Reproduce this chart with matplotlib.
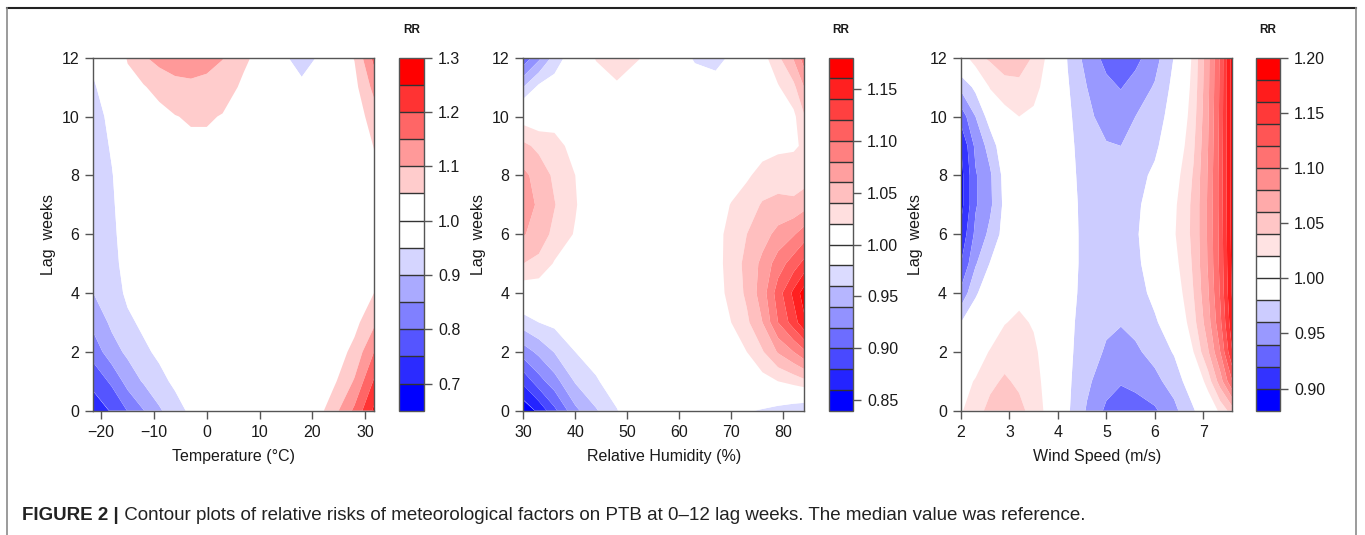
import numpy as np
import matplotlib
matplotlib.use("Agg")
import matplotlib.pyplot as plt
from matplotlib.lines import Line2D

plt.rcParams['font.family'] = ['Liberation Sans', 'DejaVu Sans']

# ---------------- data ----------------
# Panel 1: Temperature (rows = lag, columns = temperature)
temp_lag = [0, 1, 2, 3, 4, 5, 6, 8, 10, 11, 12]
temp_x = [-21.5, -18, -15, -12, -9, -6, -3, 0, 3, 7, 12, 15, 18, 21, 24, 28, 31.7]
temp_cols = [
    [0.720, 0.765, 0.820, 0.865, 0.900, 0.910, 0.915, 0.920, 0.935, 0.945, 0.960],
    [0.755, 0.810, 0.880, 0.910, 0.925, 0.935, 0.940, 0.948, 0.960, 0.975, 0.995],
    [0.802, 0.870, 0.910, 0.940, 0.960, 0.968, 0.972, 0.975, 0.990, 1.030, 1.055],
    [0.848, 0.905, 0.940, 0.960, 0.975, 0.980, 0.985, 0.990, 1.010, 1.045, 1.095],
    [0.893, 0.935, 0.960, 0.975, 0.990, 0.990, 0.990, 0.995, 1.030, 1.070, 1.115],
    [0.930, 0.960, 0.975, 0.990, 1.000, 1.000, 1.000, 1.010, 1.048, 1.085, 1.125],
    [0.960, 0.975, 0.985, 0.995, 1.000, 1.000, 1.005, 1.022, 1.056, 1.090, 1.125],
    [0.980, 0.985, 0.990, 1.000, 1.000, 1.000, 1.005, 1.022, 1.056, 1.085, 1.118],
    [0.990, 0.995, 1.000, 1.000, 1.000, 1.000, 1.000, 1.015, 1.047, 1.075, 1.102],
    [1.000, 1.000, 1.000, 1.000, 1.000, 1.000, 1.000, 1.008, 1.025, 1.040, 1.060],
    [1.000, 1.000, 1.000, 1.000, 1.000, 1.000, 1.000, 1.000, 1.005, 1.010, 1.020],
    [1.000, 1.000, 1.000, 1.000, 1.000, 1.000, 1.000, 1.000, 0.995, 0.985, 0.953],
    [1.000, 1.000, 1.000, 1.000, 1.000, 1.000, 1.000, 1.000, 0.985, 0.958, 0.935],
    [1.030, 1.010, 1.000, 1.000, 1.000, 1.000, 1.000, 1.000, 0.995, 0.985, 0.952],
    [1.080, 1.040, 1.020, 1.010, 1.000, 1.000, 1.000, 1.000, 1.000, 1.005, 1.020],
    [1.160, 1.105, 1.065, 1.035, 1.018, 1.008, 1.000, 1.005, 1.020, 1.035, 1.052],
    [1.260, 1.205, 1.150, 1.090, 1.050, 1.035, 1.025, 1.030, 1.075, 1.115, 1.165],
]
temp_levels = [0.65, 0.70, 0.75, 0.80, 0.85, 0.90, 0.95, 1.00, 1.05, 1.10, 1.15, 1.20, 1.25, 1.30]
temp_ticks = [-20, -10, 0, 10, 20, 30]
temp_cbticks = [0.7, 0.8, 0.9, 1.0, 1.1, 1.2, 1.3]

# Panel 2: Relative humidity
rh_lag = [0, 1, 2, 3, 4, 5, 6, 7, 8, 9, 10, 11, 12]
rh_x = [30, 33, 36, 40, 44, 48, 53, 58, 63, 67, 70, 73, 76, 79, 82, 84]
rh_cols = [
    [0.845, 0.885, 0.930, 0.970, 1.005, 1.040, 1.062, 1.072, 1.065, 1.045, 1.010, 0.960, 0.905],
    [0.865, 0.912, 0.945, 0.980, 1.005, 1.035, 1.050, 1.056, 1.052, 1.035, 1.005, 0.985, 0.935],
    [0.895, 0.932, 0.961, 0.985, 1.000, 1.018, 1.035, 1.041, 1.036, 1.028, 1.010, 0.990, 0.968],
    [0.935, 0.962, 0.980, 0.992, 1.000, 1.008, 1.018, 1.022, 1.020, 1.012, 1.000, 0.998, 0.995],
    [0.958, 0.978, 0.988, 0.995, 1.000, 1.000, 1.000, 1.000, 1.000, 1.000, 1.000, 1.005, 1.022],
    [0.979, 0.990, 0.995, 1.000, 1.000, 1.000, 1.000, 1.000, 1.000, 1.000, 1.000, 1.016, 1.034],
    [1.000, 1.000, 1.000, 1.000, 1.000, 1.000, 1.000, 1.000, 1.000, 1.000, 1.000, 1.005, 1.019],
    [1.000, 1.000, 1.000, 1.000, 1.000, 1.000, 1.000, 1.000, 1.000, 1.000, 1.000, 1.000, 1.000],
    [1.000, 1.000, 1.000, 1.000, 1.000, 1.000, 1.000, 1.000, 1.000, 1.000, 1.000, 0.993, 0.977],
    [1.000, 1.000, 1.004, 1.008, 1.012, 1.013, 1.013, 1.010, 1.005, 1.000, 1.000, 0.990, 0.972],
    [0.995, 1.002, 1.012, 1.020, 1.026, 1.028, 1.027, 1.021, 1.010, 1.003, 1.000, 1.000, 0.984],
    [0.982, 1.008, 1.020, 1.036, 1.044, 1.046, 1.040, 1.030, 1.017, 1.006, 1.000, 1.000, 1.000],
    [0.978, 1.012, 1.038, 1.060, 1.070, 1.065, 1.052, 1.042, 1.027, 1.012, 1.004, 1.004, 1.012],
    [0.972, 1.020, 1.062, 1.100, 1.110, 1.090, 1.066, 1.046, 1.030, 1.016, 1.008, 1.018, 1.036],
    [0.965, 1.028, 1.080, 1.130, 1.145, 1.110, 1.078, 1.045, 1.028, 1.018, 1.015, 1.035, 1.062],
    [0.960, 1.035, 1.095, 1.155, 1.170, 1.126, 1.090, 1.052, 1.030, 1.022, 1.038, 1.060, 1.090],
]
rh_levels = [0.84, 0.86, 0.88, 0.90, 0.92, 0.94, 0.96, 0.98, 1.00, 1.02, 1.04,
             1.06, 1.08, 1.10, 1.12, 1.14, 1.16, 1.18]
rh_ticks = [30, 40, 50, 60, 70, 80]
rh_cbticks = [0.85, 0.90, 0.95, 1.00, 1.05, 1.10, 1.15]

# Panel 3: Wind speed
ws_lag = [0, 1, 2, 3, 4, 5, 6, 7, 8, 9, 10, 11, 12]
ws_x = [2.0, 2.3, 2.6, 2.9, 3.2, 3.5, 3.8, 4.2, 4.6, 5.0, 5.3, 5.6, 6.0, 6.4, 6.8, 7.1, 7.35, 7.6]
ws_cols = [
    [1.018, 1.010, 0.995, 0.980, 0.945, 0.920, 0.905, 0.893, 0.893, 0.900, 0.928, 0.965, 1.005],
    [1.032, 1.022, 1.005, 0.990, 0.978, 0.958, 0.945, 0.938, 0.938, 0.945, 0.960, 0.985, 1.035],
    [1.046, 1.035, 1.022, 1.000, 0.990, 0.981, 0.965, 0.956, 0.957, 0.968, 0.990, 1.022, 1.043],
    [1.052, 1.043, 1.031, 1.019, 1.005, 0.995, 0.988, 0.985, 0.987, 0.996, 1.012, 1.032, 1.052],
    [1.046, 1.036, 1.030, 1.024, 1.014, 1.006, 1.002, 1.002, 1.005, 1.012, 1.020, 1.035, 1.050],
    [1.032, 1.028, 1.024, 1.018, 1.008, 1.000, 0.998, 0.998, 1.000, 1.008, 1.016, 1.027, 1.038],
    [1.014, 1.012, 1.010, 1.006, 1.000, 0.996, 0.994, 0.994, 0.995, 1.000, 1.006, 1.011, 1.015],
    [0.983, 0.984, 0.985, 0.986, 0.988, 0.989, 0.989, 0.989, 0.988, 0.987, 0.985, 0.982, 0.979],
    [0.958, 0.964, 0.968, 0.970, 0.972, 0.973, 0.973, 0.972, 0.970, 0.967, 0.963, 0.960, 0.952],
    [0.936, 0.948, 0.958, 0.963, 0.966, 0.968, 0.968, 0.967, 0.964, 0.961, 0.955, 0.945, 0.934],
    [0.928, 0.942, 0.954, 0.961, 0.965, 0.967, 0.968, 0.966, 0.963, 0.960, 0.951, 0.939, 0.928],
    [0.932, 0.945, 0.957, 0.965, 0.971, 0.975, 0.977, 0.975, 0.971, 0.965, 0.960, 0.948, 0.934],
    [0.937, 0.955, 0.966, 0.977, 0.986, 0.992, 0.995, 0.992, 0.985, 0.975, 0.968, 0.962, 0.952],
    [0.955, 0.968, 0.982, 0.995, 1.005, 1.013, 1.018, 1.016, 1.010, 1.000, 0.992, 0.986, 0.981],
    [0.978, 0.995, 1.020, 1.033, 1.040, 1.043, 1.045, 1.045, 1.042, 1.037, 1.032, 1.028, 1.025],
    [1.000, 1.030, 1.058, 1.072, 1.078, 1.082, 1.083, 1.083, 1.082, 1.080, 1.078, 1.076, 1.075],
    [1.025, 1.070, 1.100, 1.115, 1.122, 1.125, 1.126, 1.127, 1.127, 1.126, 1.125, 1.124, 1.123],
    [1.050, 1.120, 1.160, 1.175, 1.183, 1.186, 1.188, 1.189, 1.190, 1.190, 1.190, 1.190, 1.190],
]
ws_levels = [0.88, 0.90, 0.92, 0.94, 0.96, 0.98, 1.00, 1.02, 1.04, 1.06, 1.08,
             1.10, 1.12, 1.14, 1.16, 1.18, 1.20]
ws_ticks = [2, 3, 4, 5, 6, 7]
ws_cbticks = [0.90, 0.95, 1.00, 1.05, 1.10, 1.15, 1.20]

lag_ticks = [0, 2, 4, 6, 8, 10, 12]

# ---------------- figure ----------------
W, H = 1365, 535
fig = plt.figure(figsize=(W / 100, H / 100), dpi=100)
fig.patch.set_facecolor('white')


def px(x0, y0, x1, y1):
    """pixel box (left, top, right, bottom) -> figure fraction rect"""
    return [x0 / W, 1 - y1 / H, (x1 - x0) / W, (y1 - y0) / H]


def ramp(levels):
    lv = np.array(levels)
    nb = int(np.sum(lv < 0.9999))
    na = int(np.sum(lv > 1.0001))
    cols = []
    for i in range(nb):
        t = i / (nb - 1)
        cols.append((t, t, 1.0))
    for i in range(na):
        t = i / (na - 1)
        cols.append((1.0, 1 - t, 1 - t))
    return cols


TXT = '#1a1a1a'
SPINE = '#555555'
TICK_FS = 11.5


def panel(xv, lags, cols, levels, xticks, cbticks, fmt, xlabel, box, cbox):
    ax = fig.add_axes(px(*box))
    z = np.array(cols).T
    colors = ramp(levels)
    cs = ax.contourf(xv, lags, z, levels=levels, colors=colors, antialiased=True)
    ax.set_xlim(xv[0], xv[-1])
    ax.set_ylim(0, 12)
    ax.set_xticks(xticks)
    ax.set_yticks(lag_ticks)
    ax.set_xticklabels([('\u2212%d' % -t) if t < 0 else str(t) for t in xticks])
    ax.tick_params(direction='out', length=6, width=1, color=SPINE,
                   labelsize=TICK_FS, labelcolor=TXT)
    ax.tick_params(axis='x', pad=4)
    ax.tick_params(axis='y', pad=4)
    for s in ax.spines.values():
        s.set_color(SPINE)
        s.set_linewidth(1.0)
    # labels
    cx = (box[0] + box[2]) / 2
    fig.text(cx / W, 1 - 457 / H, xlabel, ha='center', va='center',
             fontsize=TICK_FS, color=TXT)
    fig.text((box[0] - 45) / W, 1 - ((box[1] + box[3]) / 2) / H, 'Lag  weeks',
             ha='center', va='center', rotation=90, fontsize=TICK_FS, color=TXT)
    # colorbar
    cax = fig.add_axes(px(*cbox))
    cb = fig.colorbar(cs, cax=cax, ticks=cbticks, drawedges=True)
    cb.outline.set_edgecolor(SPINE)
    cb.outline.set_linewidth(1.0)
    cb.dividers.set_color('#333333')
    cb.dividers.set_linewidth(1.0)
    cb.ax.set_yticklabels([fmt % t for t in cbticks])
    cb.ax.tick_params(direction='out', length=6, width=1, color=SPINE,
                      labelsize=TICK_FS, labelcolor=TXT, pad=4)
    ccx = (cbox[0] + cbox[2]) / 2
    fig.text(ccx / W, 1 - 30 / H, 'RR', ha='center', va='center',
             fontsize=8.5, fontweight='bold', color=TXT)
    return ax


panel(temp_x, temp_lag, temp_cols, temp_levels, temp_ticks, temp_cbticks, '%.1f',
      'Temperature (\u00b0C)', (93.3, 57.7, 374.0, 410.7), (399, 57.7, 424, 410.7))
panel(rh_x, rh_lag, rh_cols, rh_levels, rh_ticks, rh_cbticks, '%.2f',
      'Relative Humidity (%)', (523.3, 57.7, 804.0, 410.7), (828.7, 57.7, 853.3, 410.7))
panel(ws_x, ws_lag, ws_cols, ws_levels, ws_ticks, ws_cbticks, '%.2f',
      'Wind Speed (m/s)', (961.0, 57.7, 1232.3, 410.7), (1256, 57.7, 1280, 410.7))

# frame
fig.add_artist(Line2D([7 / W, 1356 / W], [1 - 8 / H, 1 - 8 / H], transform=fig.transFigure,
                      color='#222222', linewidth=1.5))
fig.add_artist(Line2D([7 / W, 7 / W], [1 - 8 / H, 0], transform=fig.transFigure,
                      color='#8a8a8a', linewidth=1.2))
fig.add_artist(Line2D([1356 / W, 1356 / W], [1 - 8 / H, 0], transform=fig.transFigure,
                      color='#8a8a8a', linewidth=1.2))

# caption
CAP_FS = 13.5
t1 = fig.text(22 / W, 1 - 515 / H, 'FIGURE 2 |', ha='left', va='center',
              fontsize=CAP_FS, fontweight='bold', color='#222222')
plt.annotate(' Contour plots of relative risks of meteorological factors on PTB at 0\u201312 lag weeks. '
             'The median value was reference.',
             xy=(1, 0.5), xycoords=t1, ha='left', va='center', fontsize=CAP_FS, color='#222222',
             annotation_clip=False)

fig.savefig('out.png', dpi=100, facecolor='white')
